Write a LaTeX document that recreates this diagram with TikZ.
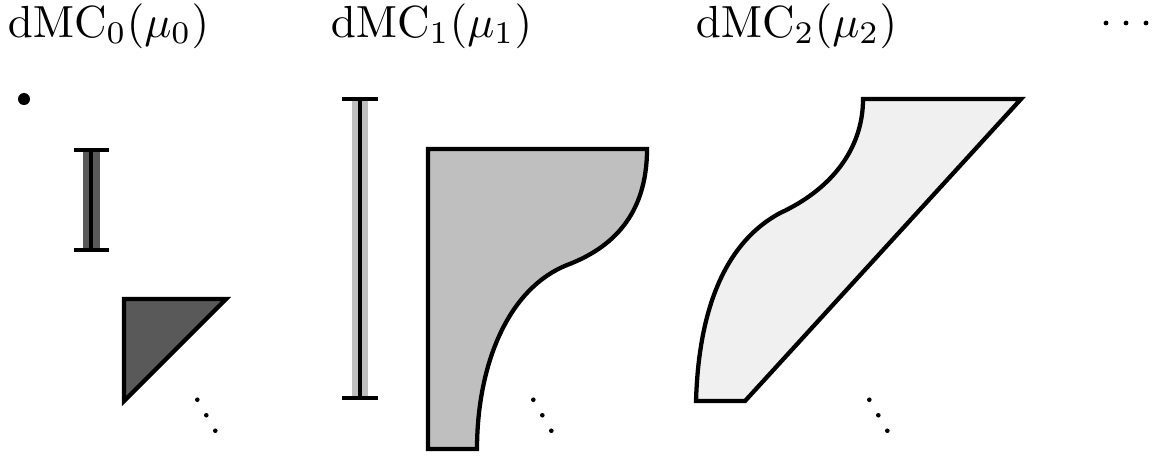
\documentclass[tikz,border=0pt]{standalone}
\begin{document}
\begin{tikzpicture}[x=0.2222pt,y=-0.2222pt,
  outl/.style={draw=black,line width=0.95pt},
  bar/.style={line width=0.95pt},
  lab/.style={anchor=base west,inner sep=0pt,font=\normalsize}]
\useasboundingbox (0,0) rectangle (1158,457);
\definecolor{dg}{gray}{0.35}
\definecolor{lg}{gray}{0.75}
\definecolor{vlg}{gray}{0.94}
% labels
\node[lab] (l0) at (7,37) {$\mathrm{dMC}_0(\mu_0)$};
\node[lab] (l1) at (330,37) {$\mathrm{dMC}_1(\mu_1)$};
\node[lab] (l2) at (695,37) {$\mathrm{dMC}_2(\mu_2)$};
\foreach \x in {1106,1126,1146} \fill (\x,23) circle[radius=2.4];
% level 0
\fill (24,99) circle[radius=6];
\fill[dg] (83,150) rectangle (100,250);
\draw[bar] (91,150) -- (91,250);
\draw[bar] (74,150) -- (109,150);
\draw[bar] (74,250) -- (109,250);
\draw[outl,fill=dg] (124,299) -- (226,299) -- (124,401) -- cycle;
\foreach \p in {(197.3,399.7),(206.3,415.2),(215.3,430.7)} \fill \p circle[radius=2.3];
% level 1
\fill[lg] (352,99) rectangle (368,398);
\draw[bar] (360,99) -- (360,398);
\draw[bar] (342,99) -- (378,99);
\draw[bar] (342,398) -- (378,398);
\draw[outl,fill=lg] (428,149) -- (647,149)
  .. controls (647,215) and (612,248) .. (567,265)
  .. controls (505,290) and (477,370) .. (477,449)
  -- (428,449) -- cycle;
\foreach \p in {(533.3,399.7),(542.3,415.2),(551.3,430.7)} \fill \p circle[radius=2.3];
% level 2
\draw[outl,fill=vlg] (696,401)
  .. controls (699,300) and (730,240) .. (780,213)
  .. controls (830,190) and (863,150) .. (863,99)
  -- (1021,99) -- (745,401) -- cycle;
\foreach \p in {(869.3,399.7),(878.3,415.2),(887.3,430.7)} \fill \p circle[radius=2.3];
\end{tikzpicture}
\end{document}
